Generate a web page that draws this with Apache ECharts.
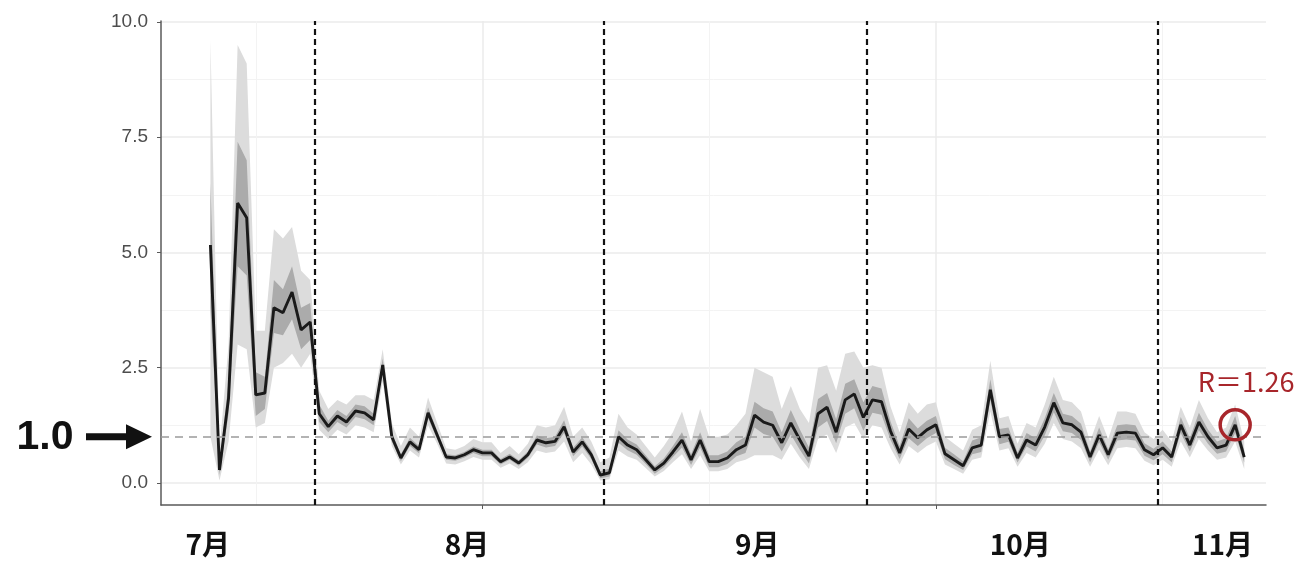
<!DOCTYPE html>
<html><head><meta charset="utf-8">
<script src="https://cdn.jsdelivr.net/npm/echarts@6/dist/echarts.min.js"></script>
<style>html,body{margin:0;padding:0;background:#fff}#c{width:1302px;height:561px}</style>
</head><body><div id="c"></div>
<script>
// day index of the first estimate (x axis is in days)
const firstDay = 20;
// effective reproduction number (central estimate), one value per day
const rMid = [
  5.16, 0.28, 1.84, 6.07, 5.75, 1.91, 1.95, 3.80, 3.69, 4.14,
  3.32, 3.49, 1.50, 1.22, 1.45, 1.32, 1.56, 1.52, 1.37, 2.56,
  1.00, 0.54, 0.89, 0.72, 1.52, 1.04, 0.56, 0.54, 0.61, 0.72,
  0.65, 0.65, 0.46, 0.56, 0.43, 0.61, 0.93, 0.87, 0.90, 1.22,
  0.67, 0.89, 0.61, 0.17, 0.22, 1.00, 0.82, 0.72, 0.50, 0.28,
  0.43, 0.67, 0.93, 0.50, 0.93, 0.46, 0.46, 0.54, 0.72, 0.82,
  1.47, 1.32, 1.25, 0.87, 1.30, 0.93, 0.58, 1.50, 1.64, 1.10,
  1.80, 1.93, 1.42, 1.80, 1.76, 1.12, 0.65, 1.17, 0.98, 1.15,
  1.26, 0.63, 0.50, 0.37, 0.76, 0.82, 2.02, 1.00, 1.04, 0.54,
  0.93, 0.82, 1.21, 1.74, 1.30, 1.26, 1.10, 0.56, 1.04, 0.61,
  1.08, 1.10, 1.08, 0.72, 0.61, 0.76, 0.56, 1.26, 0.82, 1.32,
  1.00, 0.76, 0.82, 1.26, 0.56
];
// outer (light) interval
const hi95 = [
  9.6, 0.7, 3.0, 9.5, 9.1, 3.3, 3.3, 5.5, 5.3, 5.55,
  4.6, 4.4, 2.0, 1.6, 1.8, 1.7, 1.9, 1.9, 1.8, 2.9,
  1.3, 0.8, 1.2, 1.0, 1.85, 1.3, 0.75, 0.72, 0.8, 0.95,
  0.88, 0.88, 0.65, 0.8, 0.62, 0.85, 1.25, 1.2, 1.25, 1.65,
  1.0, 1.2, 0.9, 0.45, 0.55, 1.5, 1.2, 1.05, 0.8, 0.55,
  0.8, 1.1, 1.55, 0.9, 1.6, 1.0, 1.0, 1.05, 1.25, 1.5,
  2.5, 2.4, 2.3, 1.6, 2.1, 1.6, 1.3, 2.5, 2.55, 2.0,
  2.8, 2.85, 2.5, 2.55, 2.5, 1.65, 1.1, 1.75, 1.5, 1.7,
  1.75, 1.0, 0.85, 0.7, 1.15, 1.25, 2.65, 1.4, 1.45, 0.85,
  1.3, 1.2, 1.7, 2.3, 1.8, 1.75, 1.55, 0.9, 1.45, 0.95,
  1.55, 1.55, 1.5, 1.1, 0.95, 1.15, 0.9, 1.65, 1.2, 1.8,
  1.4, 1.1, 1.2, 1.7, 0.9
];
const lo95 = [
  1.0, 0.05, 0.9, 3.0, 2.9, 1.2, 1.3, 2.5, 2.6, 2.8,
  2.5, 2.8, 1.15, 0.95, 1.15, 1.05, 1.25, 1.2, 1.1, 2.2,
  0.8, 0.4, 0.7, 0.55, 1.25, 0.85, 0.42, 0.4, 0.47, 0.56,
  0.5, 0.5, 0.33, 0.42, 0.3, 0.45, 0.7, 0.65, 0.68, 0.9,
  0.45, 0.65, 0.4, 0.05, 0.08, 0.7, 0.57, 0.5, 0.32, 0.14,
  0.26, 0.45, 0.62, 0.3, 0.6, 0.25, 0.25, 0.3, 0.45, 0.5,
  0.6, 0.6, 0.6, 0.5, 0.85, 0.55, 0.3, 0.95, 1.05, 0.65,
  1.2, 1.3, 0.95, 1.25, 1.2, 0.75, 0.4, 0.8, 0.65, 0.8,
  0.9, 0.4, 0.3, 0.2, 0.5, 0.55, 1.55, 0.7, 0.75, 0.35,
  0.65, 0.55, 0.85, 1.3, 0.95, 0.9, 0.75, 0.35, 0.72, 0.38,
  0.75, 0.78, 0.75, 0.48, 0.38, 0.5, 0.35, 0.9, 0.55, 0.95,
  0.7, 0.5, 0.55, 0.9, 0.3
];
// inner (darker) interval
const hi50 = [
  6.5, 0.4, 2.2, 7.4, 7.0, 2.4, 2.3, 4.4, 4.2, 4.7,
  3.8, 3.9, 1.7, 1.35, 1.58, 1.45, 1.7, 1.66, 1.5, 2.7,
  1.1, 0.62, 0.98, 0.8, 1.64, 1.13, 0.62, 0.6, 0.67, 0.79,
  0.72, 0.72, 0.52, 0.63, 0.49, 0.68, 1.03, 0.97, 1.0, 1.36,
  0.76, 0.99, 0.7, 0.25, 0.31, 1.14, 0.94, 0.83, 0.6, 0.36,
  0.53, 0.8, 1.1, 0.62, 1.1, 0.6, 0.6, 0.68, 0.88, 1.0,
  1.76, 1.62, 1.55, 1.1, 1.58, 1.16, 0.77, 1.82, 1.95, 1.38,
  2.15, 2.25, 1.75, 2.1, 2.05, 1.33, 0.8, 1.4, 1.18, 1.35,
  1.45, 0.76, 0.62, 0.47, 0.92, 0.99, 2.25, 1.17, 1.2, 0.66,
  1.08, 0.97, 1.4, 1.95, 1.5, 1.45, 1.28, 0.68, 1.2, 0.73,
  1.25, 1.27, 1.25, 0.86, 0.74, 0.9, 0.68, 1.43, 0.97, 1.52,
  1.16, 0.9, 0.97, 1.45, 0.7
];
const lo50 = [
  3.8, 0.17, 1.5, 4.7, 4.5, 1.45, 1.6, 3.25, 3.2, 3.55,
  2.9, 3.1, 1.32, 1.1, 1.32, 1.2, 1.43, 1.38, 1.25, 2.42,
  0.9, 0.47, 0.8, 0.64, 1.4, 0.95, 0.5, 0.48, 0.55, 0.65,
  0.58, 0.58, 0.4, 0.5, 0.37, 0.54, 0.83, 0.77, 0.8, 1.08,
  0.58, 0.79, 0.52, 0.1, 0.14, 0.87, 0.71, 0.61, 0.41, 0.2,
  0.34, 0.56, 0.77, 0.39, 0.77, 0.34, 0.34, 0.41, 0.58, 0.65,
  1.2, 1.06, 1.0, 0.68, 1.05, 0.72, 0.42, 1.2, 1.34, 0.86,
  1.5, 1.62, 1.13, 1.52, 1.48, 0.93, 0.52, 0.97, 0.8, 0.97,
  1.08, 0.51, 0.39, 0.28, 0.62, 0.67, 1.8, 0.84, 0.89, 0.44,
  0.79, 0.68, 1.03, 1.53, 1.12, 1.08, 0.93, 0.45, 0.88, 0.5,
  0.92, 0.94, 0.92, 0.59, 0.49, 0.62, 0.45, 1.08, 0.68, 1.14,
  0.85, 0.63, 0.68, 1.08, 0.44
];
// x tick labels (months) and where they sit on the day axis
const monthLabels = ['7月', '8月', '9月', '10月', '11月'];
const monthPos = [19.7, 48.3, 80.3, 109.3, 131.6];
// vertical dashed separators (day positions)
const phaseLines = [31.5, 63.4, 92.4, 124.5];
// y ticks
const yTickValues = [0, 2.5, 5, 7.5, 10];
const yMinorValues = [1.25, 3.75, 6.25, 8.75];
// vertical grid
const xMajorGrid = [50, 100];
const xMinorGrid = [25, 75, 125];
const refLevel = 1.0;
const latestDay = 133;
const latestR = 1.26;

const X_MIN = 14.55, X_MAX = 136.4, Y_MIN = -0.48, Y_MAX = 10.02;

function bandSeries(lo, hi, color, name) {
  return {
    type: 'custom', name: name, silent: true, clip: true, z: 1,
    data: lo.map((v, i) => [firstDay + i, v, hi[i]]),
    encode: { x: 0, y: [1, 2] },
    renderItem: function (params, api) {
      if (params.dataIndex !== 0) return null;
      const pts = [];
      for (let i = 0; i < hi.length; i++) pts.push(api.coord([firstDay + i, hi[i]]));
      for (let i = lo.length - 1; i >= 0; i--) pts.push(api.coord([firstDay + i, lo[i]]));
      return { type: 'polygon', shape: { points: pts }, style: { fill: color } };
    }
  };
}

const chart = echarts.init(document.getElementById('c'), null, { renderer: 'canvas' });
const axisGrey = '#4d4d4d';
chart.setOption({
  animation: false,
  backgroundColor: '#ffffff',
  grid: { left: 161, right: 36, top: 21, bottom: 56, containLabel: false },
  xAxis: [{
    type: 'value', min: X_MIN, max: X_MAX,
    axisLine: { show: true, onZero: false, lineStyle: { color: '#5a5a5a', width: 1.5 } },
    axisTick: { show: true, customValues: xMajorGrid, length: 4, lineStyle: { color: '#5a5a5a' } },
    axisLabel: {
      customValues: monthPos,
      formatter: function (v) {
        let best = 0;
        for (let i = 0; i < monthPos.length; i++) if (Math.abs(monthPos[i] - v) < Math.abs(monthPos[best] - v)) best = i;
        return monthLabels[best];
      },
      fontSize: 28, fontWeight: 'bold', color: '#111', margin: 25, fontFamily: 'Noto Sans CJK JP'
    },
    splitLine: { show: true, lineStyle: { color: '#ebebeb', width: 1.5 } }
  }, {
    type: 'value', min: X_MIN, max: X_MAX, position: 'bottom',
    axisLine: { show: false, onZero: false }, axisTick: { show: false, customValues: xMinorGrid },
    axisLabel: { show: false },
    splitLine: { show: true, lineStyle: { color: '#f3f3f3', width: 1 } }
  }],
  yAxis: [{
    type: 'value', min: Y_MIN, max: Y_MAX,
    axisLine: { show: true, onZero: false, lineStyle: { color: '#5a5a5a', width: 1.5 } },
    axisTick: { show: true, customValues: yTickValues, length: 4, lineStyle: { color: '#5a5a5a' } },
    axisLabel: { customValues: yTickValues, formatter: v => v.toFixed(1), color: axisGrey, fontSize: 19, margin: 13, fontFamily: 'Liberation Sans' },
    splitLine: { show: true, lineStyle: { color: '#ebebeb', width: 1.5 } }
  }, {
    type: 'value', min: Y_MIN, max: Y_MAX, position: 'left',
    axisLine: { show: false, onZero: false }, axisTick: { show: false, customValues: yMinorValues },
    axisLabel: { show: false },
    splitLine: { show: true, lineStyle: { color: '#f3f3f3', width: 1 } }
  }],
  series: [
    bandSeries(lo95, hi95, '#dcdcdc', 'outer'),
    bandSeries(lo50, hi50, '#ababab', 'inner'),
    {
      type: 'line', name: 'R', z: 3,
      data: rMid.map((v, i) => [firstDay + i, v]),
      symbol: 'none',
      lineStyle: { color: '#1a1a1a', width: 2.9 },
      markLine: {
        silent: true, symbol: 'none', label: { show: false }, animation: false,
        data: phaseLines.map(x => ({ xAxis: x, lineStyle: { type: [6, 4], color: '#111', width: 2.2 } }))
          .concat([{ yAxis: refLevel, lineStyle: { type: [8, 6], color: '#9a9a9a', width: 1.6 } }])
      },
      markPoint: {
        silent: true, animation: false,
        symbol: 'circle', symbolSize: 30,
        itemStyle: { color: 'rgba(0,0,0,0)', borderColor: '#a8262b', borderWidth: 3.5 },
        label: {
          show: true, position: 'top', distance: 13, offset: [11, 0],
          formatter: 'R＝' + latestR.toFixed(2),
          color: '#a8262b', fontSize: 27, fontFamily: 'Noto Sans CJK JP'
        },
        data: [{ coord: [latestDay, latestR] }]
      }
    }
  ]
});

const y1 = chart.convertToPixel({ yAxisIndex: 0 }, refLevel);
chart.setOption({
  graphic: [
    { type: 'text', x: 45, y: y1 + 1, style: { text: '1.0', font: 'bold 41px "Liberation Sans"', fill: '#111', align: 'center', verticalAlign: 'middle' } },
    { type: 'polygon', shape: { points: [[86, y1 - 3.5], [126, y1 - 3.5], [126, y1 - 12.5], [152, y1], [126, y1 + 12.5], [126, y1 + 3.5], [86, y1 + 3.5]] }, style: { fill: '#111' } }
  ]
});
</script>
</body></html>
